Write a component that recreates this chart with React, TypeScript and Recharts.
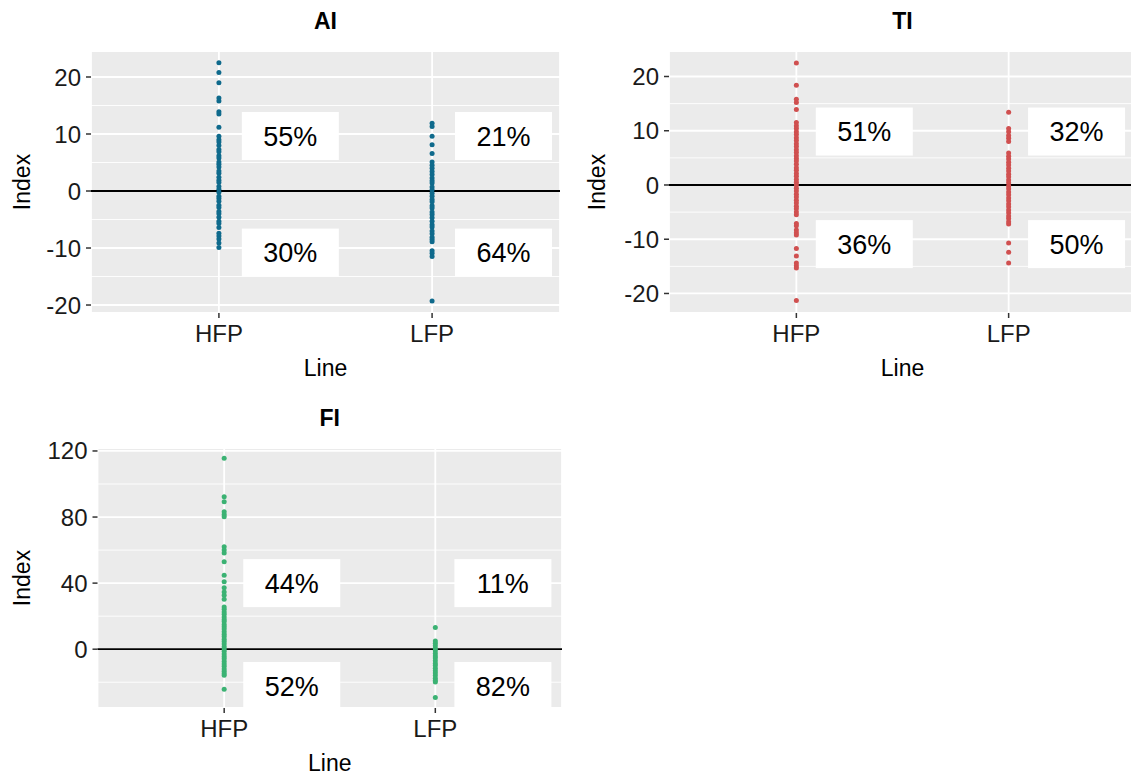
import React from 'react';
import { ScatterChart, Scatter, XAxis, YAxis, CartesianGrid, ReferenceLine } from 'recharts';

const lines = ['HFP', 'LFP'];

// AI index values by line
const aiHFP = [22.5, 20.8, 19.0, 16.3, 15.8, 13.9, 13.5, 11.2, 9.6, 9.0, 8.6, 8.0, 7.3, 6.9, 6.2, 5.8, 5.1, 4.7, 4.2, 3.5, 3.1, 2.4, 1.9, 1.5, 0.8, 0.3, -0.2, -0.9, -1.3, -1.8, -2.5, -2.9, -3.6, -4.0, -4.6, -5.3, -5.7, -6.4, -7.4, -7.9, -8.4, -9.1, -9.9];
const aiLFP = [11.9, 11.3, 9.6, 8.1, 6.6, 5.1, 4.5, 4.0, 3.4, 2.9, 2.3, 1.8, 1.4, 0.7, 0.2, -0.4, -0.9, -1.5, -1.9, -2.6, -3.0, -3.7, -4.1, -4.7, -5.3, -5.9, -6.3, -7.0, -7.5, -8.1, -8.5, -8.9, -10.5, -10.9, -11.5, -19.3];
const aiPct = ['55%', '21%', '30%', '64%'];

// TI index values by line
const tiHFP = [22.5, 18.4, 15.8, 15.2, 13.9, 11.5, 10.9, 10.4, 9.8, 9.3, 8.7, 8.2, 7.6, 7.1, 6.5, 6.0, 5.4, 4.9, 4.4, 3.8, 3.2, 2.7, 2.1, 1.6, 1.0, 0.5, 0.0, -0.6, -1.1, -1.7, -2.2, -2.8, -3.3, -3.9, -4.4, -5.0, -5.5, -7.1, -7.5, -8.3, -8.8, -9.2, -11.7, -13.1, -14.4, -14.9, -15.3, -21.3];
const tiLFP = [13.4, 10.4, 9.8, 9.1, 8.6, 8.0, 5.9, 5.3, 4.8, 4.2, 3.7, 3.1, 2.6, 2.0, 1.5, 0.9, 0.4, -0.2, -0.7, -1.3, -1.8, -2.4, -2.9, -3.5, -4.0, -4.6, -5.1, -5.7, -6.2, -6.8, -7.2, -10.7, -12.4, -14.4];
const tiPct = ['51%', '32%', '36%', '50%'];

// FI index values by line
const fiHFP = [115.6, 92.3, 89.3, 83.2, 81.6, 80.2, 62.0, 60.1, 58.2, 52.9, 44.8, 40.8, 37.2, 34.7, 32.7, 30.3, 25.6, 24.2, 22.5, 21.2, 19.5, 18.0, 16.7, 15.0, 13.6, 12.2, 10.5, 9.1, 7.7, 6.0, 4.6, 3.2, 1.5, 0.1, -1.3, -2.9, -4.4, -5.8, -7.5, -8.9, -10.3, -12.0, -13.4, -14.7, -15.8, -24.2];
const fiLFP = [13.2, 5.0, 3.6, 2.1, 0.4, -1.0, -2.6, -4.1, -5.4, -7.0, -8.6, -9.9, -11.5, -13.1, -14.4, -16.0, -17.6, -18.9, -19.8, -29.3];
const fiPct = ['44%', '11%', '52%', '82%'];

const toPoints = (hfp: number[], lfp: number[]) => [
  ...hfp.map(y => ({ x: 1, y })),
  ...lfp.map(y => ({ x: 2, y })),
];

const toBoxes = (pct: string[], boxX: number, boxY: number[]) => [
  { x: 1 + boxX, y: boxY[0], label: pct[0] },
  { x: 2 + boxX, y: boxY[0], label: pct[1] },
  { x: 1 + boxX, y: boxY[1], label: pct[2] },
  { x: 2 + boxX, y: boxY[1], label: pct[3] },
];

const LabelBox = (props: any) => {
  const { cx, cy, payload } = props;
  return (
    <g>
      <rect x={cx - 48.5} y={cy - 24} width={97} height={48} fill="#FFFFFF" />
      <text x={cx} y={cy} dy="0.36em" textAnchor="middle" fontSize={27} fill="#000">
        {payload.label}
      </text>
    </g>
  );
};

interface PanelProps {
  left: number;
  top: number;
  width: number;
  height: number;
  margin: { top: number; right: number; left: number; bottom: number };
  yAxisWidth: number;
  indexOffset: number;
  title: string;
  color: string;
  hfp: number[];
  lfp: number[];
  domain: [number, number];
  ticks: number[];
  minor: number[];
  pct: string[];
  boxX: number;
  boxY: number[];
}

const Panel: React.FC<PanelProps> = p => {
  const plotLeft = p.margin.left + p.yAxisWidth;
  const plotRight = p.width - p.margin.right;
  const titleX = p.left + (plotLeft + plotRight) / 2;
  const dot = (s: any) => <circle cx={s.cx} cy={s.cy} r={2.5} fill={p.color} />;
  return (
    <>
      <div
        style={{
          position: 'absolute',
          left: titleX - 60,
          top: p.top + 8,
          width: 120,
          textAlign: 'center',
          fontSize: 23,
          lineHeight: '27px',
          fontWeight: 'bold',
          color: '#000',
        }}
      >
        {p.title}
      </div>
      <div style={{ position: 'absolute', left: p.left, top: p.top }}>
        <ScatterChart width={p.width} height={p.height} margin={p.margin}>
          <CartesianGrid fill="#EBEBEB" stroke="#FFFFFF" strokeWidth={1.8} />
          <XAxis
            type="number"
            dataKey="x"
            domain={[0.4, 2.6]}
            ticks={[1, 2]}
            tickFormatter={(v: number) => lines[v - 1]}
            axisLine={false}
            tickSize={5}
            tickMargin={7}
            tickLine={{ stroke: '#333', strokeWidth: 1.5 }}
            tick={{ fill: '#1a1a1a', fontSize: 24 }}
            height={87}
            label={{ value: 'Line', position: 'insideBottom', offset: 24, fill: '#000', fontSize: 23 }}
          />
          <YAxis
            type="number"
            dataKey="y"
            domain={p.domain}
            ticks={p.ticks}
            allowDataOverflow
            width={p.yAxisWidth}
            axisLine={false}
            tickSize={5}
            tickMargin={5}
            tickLine={{ stroke: '#333', strokeWidth: 1.5 }}
            tick={{ fill: '#1a1a1a', fontSize: 24 }}
            label={{
              value: 'Index',
              angle: -90,
              position: 'insideLeft',
              offset: p.indexOffset,
              fill: '#000',
              fontSize: 23,
              style: { textAnchor: 'middle' },
            }}
          />
          {p.minor.map(v => (
            <ReferenceLine key={v} y={v} stroke="#FFFFFF" strokeWidth={0.9} />
          ))}
          <Scatter data={toBoxes(p.pct, p.boxX, p.boxY)} shape={LabelBox} isAnimationActive={false} />
          <Scatter data={toPoints(p.hfp, p.lfp)} shape={dot} isAnimationActive={false} />
          <ReferenceLine y={0} stroke="#000" strokeWidth={1.8} />
        </ScatterChart>
      </div>
    </>
  );
};

export default function App() {
  return (
    <div
      style={{
        position: 'absolute',
        left: 0,
        top: 0,
        width: 1131,
        height: 776,
        overflow: 'hidden',
        background: '#fff',
        fontFamily: "'Liberation Sans', Arial, sans-serif",
      }}
    >
      <Panel
        left={0}
        top={0}
        width={570}
        height={400}
        margin={{ top: 51, right: 10, left: 8, bottom: 0 }}
        yAxisWidth={83}
        indexOffset={14}
        title="AI"
        color="#0F6A8C"
        hfp={aiHFP}
        lfp={aiLFP}
        domain={[-21.4, 24.56]}
        ticks={[-20, -10, 0, 10, 20]}
        minor={[-15, -5, 5, 15]}
        pct={aiPct}
        boxX={0.335}
        boxY={[9.65, -10.8]}
      />
      <Panel
        left={580}
        top={0}
        width={556}
        height={400}
        margin={{ top: 51, right: 0, left: 4, bottom: 0 }}
        yAxisWidth={85}
        indexOffset={13}
        title="TI"
        color="#D05050"
        hfp={tiHFP}
        lfp={tiLFP}
        domain={[-23.6, 24.7]}
        ticks={[-20, -10, 0, 10, 20]}
        minor={[-15, -5, 5, 15]}
        pct={tiPct}
        boxX={0.32}
        boxY={[9.85, -10.9]}
      />
      <Panel
        left={0}
        top={397}
        width={572}
        height={398}
        margin={{ top: 51, right: 10, left: 8, bottom: 0 }}
        yAxisWidth={89.5}
        indexOffset={14}
        title="FI"
        color="#3BB273"
        hfp={fiHFP}
        lfp={fiLFP}
        domain={[-35.6, 121.8]}
        ticks={[0, 40, 80, 120]}
        minor={[-20, 20, 60, 100]}
        pct={fiPct}
        boxX={0.32}
        boxY={[40, -22.3]}
      />
    </div>
  );
}
